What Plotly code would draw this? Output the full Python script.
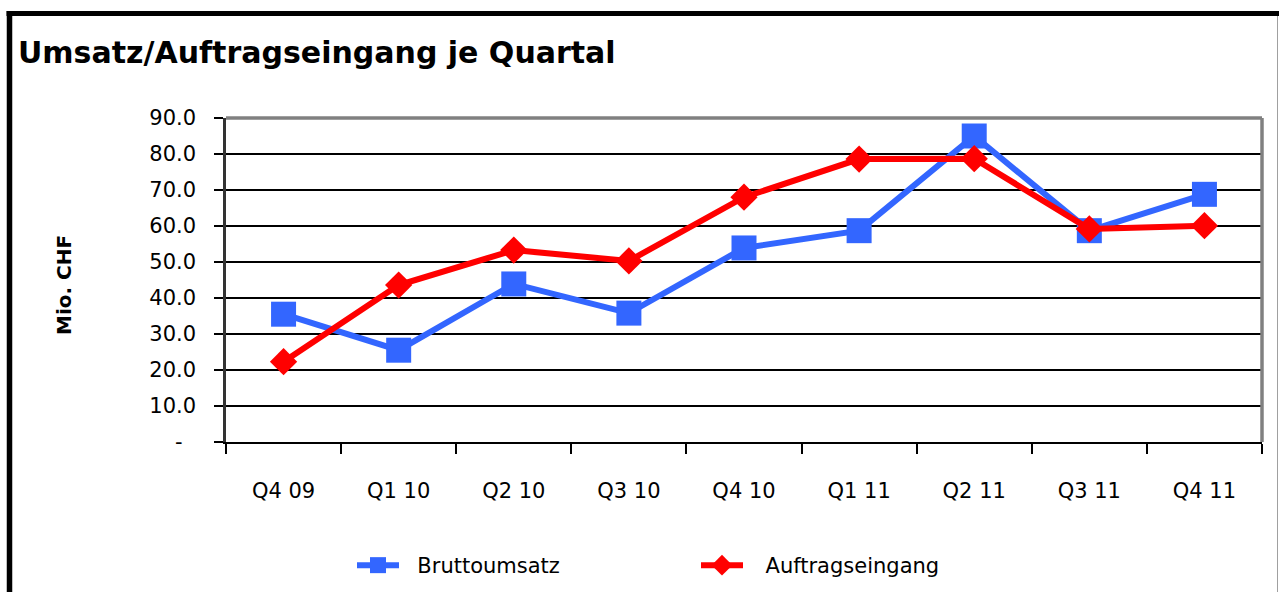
import plotly.graph_objects as go

quarters = ["Q4 09", "Q1 10", "Q2 10", "Q3 10", "Q4 10", "Q1 11", "Q2 11", "Q3 11", "Q4 11"]
bruttoumsatz = [35.5, 25.5, 43.9, 35.8, 53.9, 58.7, 85.0, 58.7, 68.8]
auftragseingang = [22.3, 43.6, 53.3, 50.3, 68.0, 78.6, 78.7, 59.2, 60.1]
y_tickvals = [0, 10, 20, 30, 40, 50, 60, 70, 80, 90]
y_ticktext = ["-\u00a0\u00a0", "10.0", "20.0", "30.0", "40.0", "50.0", "60.0", "70.0", "80.0", "90.0"]

W, H = 1279, 592
ML, MR, MT, MB = 226, 17, 118, 150
PW = W - ML - MR
PH = H - MT - MB


def px(x):
    return (x - ML) / PW


def py(y):
    return (H - MB - y) / PH


fig = go.Figure()
fig.add_trace(go.Scatter(
    x=quarters, y=bruttoumsatz, name="\u00a0\u00a0Bruttoumsatz", mode="lines+markers",
    line=dict(color="#3366FF", width=6),
    marker=dict(symbol="square", size=25, color="#3366FF"),
))
fig.add_trace(go.Scatter(
    x=quarters, y=auftragseingang, name="\u00a0\u00a0\u2009Auftragseingang", mode="lines+markers",
    line=dict(color="#FF0000", width=6),
    marker=dict(symbol="diamond", size=21, color="#FF0000"),
))

font_main = "DejaVu Sans"

fig.update_layout(
    width=W, height=H,
    margin=dict(l=ML, r=MR, t=MT, b=MB, pad=0, autoexpand=False),
    paper_bgcolor="white", plot_bgcolor="white",
    showlegend=True,
    legend=dict(
        orientation="h", x=px(352), xanchor="left", y=py(545), yanchor="top",
        font=dict(family=font_main, size=21, color="black"),
        itemwidth=42, entrywidth=287, entrywidthmode="pixels",
        bgcolor="rgba(0,0,0,0)",
    ),
    xaxis=dict(
        type="category", range=[-0.5, 8.5], tickson="boundaries",
        ticks="outside", ticklen=10, tickwidth=2, tickcolor="black",
        showline=True, linecolor="black", linewidth=2,
        showgrid=False, zeroline=False, automargin=False,
        tickfont=dict(family=font_main, size=21, color="black"),
        ticklabelstandoff=29,
    ),
    yaxis=dict(
        range=[0, 90], tickvals=y_tickvals, ticktext=y_ticktext,
        ticks="outside", ticklen=9, tickwidth=2, tickcolor="black",
        showline=True, linecolor="#333333", linewidth=2.5,
        showgrid=True, gridcolor="black", gridwidth=2, zeroline=False, automargin=False,
        tickfont=dict(family=font_main, size=21, color="black"),
        ticklabelstandoff=14,
    ),
    shapes=[
        # plot area top / right gray border
        dict(type="line", xref="paper", yref="paper", x0=0, x1=1, y0=1, y1=1,
             line=dict(color="#808080", width=3.5), layer="above"),
        dict(type="line", xref="paper", yref="paper", x0=1, x1=1, y0=0, y1=1,
             line=dict(color="#808080", width=3.5), layer="above"),
        # outer frame
        dict(type="line", xref="paper", yref="paper", x0=px(6.5), x1=px(1279), y0=py(13.5), y1=py(13.5),
             line=dict(color="black", width=5), layer="above"),
        dict(type="line", xref="paper", yref="paper", x0=px(9.5), x1=px(9.5), y0=py(11), y1=py(600),
             line=dict(color="black", width=5.5), layer="above"),
        dict(type="line", xref="paper", yref="paper", x0=px(1277.5), x1=px(1277.5), y0=py(16), y1=py(600),
             line=dict(color="#A0A0A0", width=1), layer="above"),
    ],
    annotations=[
        dict(text="<b>Umsatz/Auftragseingang je Quartal</b>", xref="paper", yref="paper",
             x=px(16), y=py(52), xanchor="left", yanchor="middle", showarrow=False,
             font=dict(family=font_main, size=30, color="black")),
        dict(text="<b>Mio. CHF</b>", xref="paper", yref="paper", textangle=-90,
             x=px(64), y=py(285), xanchor="center", yanchor="middle", showarrow=False,
             font=dict(family=font_main, size=20, color="black")),
    ],
)

fig.write_html("out.html")
